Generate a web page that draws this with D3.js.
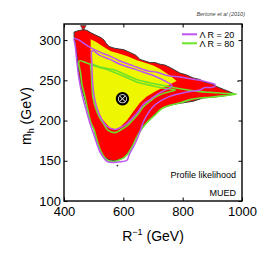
<!DOCTYPE html>
<html>
<head>
<meta charset="utf-8">
<script src="https://cdn.jsdelivr.net/npm/d3@7"></script>
<style>
  body { margin: 0; background: #fff; }
  svg { display: block; }
</style>
</head>
<body>
<script>
// profile likelihood regions, MUED (R^-1 in GeV, m_h in GeV)
var region95 = [[434,310],[451,312],[467,313],[478,312],[491,309],[508,306],[525,303],[535,300],[542,296],[552,292],
    [569,290],[585,289],[602,288],[626,284],[643,281],[656,276],[673,274],[690,272],[707,272],[724,270],[740,269],
    [757,266],[791,259],[811,257],[835,253],[858,251],[872,248],[896,246],[916,242],[936,239],[956,236],[976,233],
    [926,230],[869,228],[835,224],[801,222],[767,220],[734,216],[713,210],[690,201],[666,193],[646,180],[629,168],
    [616,160],[606,155],[589,152],[572,150],[552,151],[535,155],[524,162],[512,172],[507,180],[501,189],[490,197],
    [479,214],[467,230],[457,241],[451,255],[447,268],[444,280],[440,289],[437,298],[434,305]];

var region68 = [[490,301],[507,298],[524,294],[541,290],[558,286],[580,284],[614,280],[646,275],[681,271],[703,268],
    [724,264],[757,256],[780,249],[746,243],[712,237],[679,230],[656,222],[633,211],[612,200],[589,192],[575,189],
    [555,191],[535,199],[521,205],[508,216],[498,229],[493,245],[491,264],[490,282]];

// Lambda R = 20 contours
var lr20Outer = [[434,302],[451,300],[467,296],[488,291],[521,285],[555,280],[589,274],[633,268],[680,262],[713,260],
    [747,256],[791,254],[825,252],[858,250],[892,247],[909,245],[907,242],[895,241],[875,241],[858,238],[825,236],
    [797,234],[757,230],[724,224],[697,216],[680,207],[666,197],[656,186],[643,174],[629,164],[619,157],[613,151],
    [597,149],[569,148],[546,149],[535,153],[521,161],[511,171],[501,182],[488,196],[474,214],[461,232],[451,251],
    [444,270],[440,286],[437,295]];
var lr20Inner = [[495,287],[521,281],[555,276],[589,270],[645,263],[701,256],[746,248],[764,243],[735,237],[712,232],
    [690,226],[667,220],[650,211],[630,203],[611,196],[589,191],[572,189],[544,193],[528,201],[511,216],[501,232],
    [496,251],[494,270]];

// Lambda R = 80 contours
var lr80Outer = [[451,274],[481,271],[512,267],[569,263],[589,260],[645,251],[701,246],[757,242],[802,239],[858,236],
    [892,235],[936,234],[982,233],[943,231],[892,229],[858,228],[825,226],[791,222],[757,219],[730,215],[707,207],
    [683,199],[663,190],[646,180],[629,167],[616,159],[602,154],[585,151],[569,149],[548,150],[535,155],[525,161],
    [515,171],[508,180],[501,189],[491,197],[481,212],[471,229],[461,244],[456,259]];
var lr80Inner = [[491,270],[521,266],[555,262],[589,257],[645,248],[701,243],[740,240],[775,238],[746,235],[712,230],
    [690,224],[667,217],[650,208],[630,200],[611,193],[589,188],[572,185],[548,188],[535,195],[521,203],[508,214],
    [498,228],[494,245],[492,260]];

var bestFit = [597, 227];
var edgePoints = [[580,144],[987,249]];
var topMarker = [465, 316];

var xTicks = [400, 600, 800, 1000];
var yTicks = [100, 150, 200, 250, 300];
var legendLabels = ["\u039B R = 20", "\u039B R = 80"];
var legendColors = ["#bf55f0", "#6ee22a"];

var FONT = "'Liberation Sans', Arial, Helvetica, sans-serif";

var svg = d3.select("body").append("svg")
    .attr("width", 266)
    .attr("height", 266)
    .attr("font-family", FONT);

var plotLeft = 64, plotRight = 242, plotTop = 24, plotBottom = 201;

var x = d3.scaleLinear().domain([400, 1000]).range([plotLeft, plotRight]);
var y = d3.scaleLinear().domain([100, 320]).range([plotBottom, plotTop]);

svg.append("clipPath").attr("id", "plot-clip")
    .append("rect")
    .attr("x", plotLeft).attr("y", plotTop)
    .attr("width", plotRight - plotLeft).attr("height", plotBottom - plotTop);

var plot = svg.append("g").attr("clip-path", "url(#plot-clip)");

var area = d3.line()
    .x(function(d) { return x(d[0]); })
    .y(function(d) { return y(d[1]); })
    .curve(d3.curveLinearClosed);

var contour = d3.line()
    .x(function(d) { return x(d[0]); })
    .y(function(d) { return y(d[1]); })
    .curve(d3.curveCatmullRomClosed.alpha(0.5));

plot.append("path")
    .attr("d", area(region95))
    .attr("fill", "#ff0000")
    .attr("stroke", "#3a3a3a")
    .attr("stroke-width", 1);

plot.append("path")
    .attr("d", area(region68))
    .attr("fill", "#eef600")
    .attr("stroke", "none");

[lr80Outer, lr80Inner].forEach(function(c) {
    plot.append("path")
        .attr("d", contour(c))
        .attr("fill", "none")
        .attr("stroke", legendColors[1])
        .attr("stroke-width", 1.6);
});

[lr20Outer, lr20Inner].forEach(function(c) {
    plot.append("path")
        .attr("d", contour(c))
        .attr("fill", "none")
        .attr("stroke", legendColors[0])
        .attr("stroke-width", 1.5);
});

plot.selectAll(".edge-pt")
    .data(edgePoints)
    .enter().append("circle")
        .attr("class", "edge-pt")
        .attr("cx", function(d) { return x(d[0]); })
        .attr("cy", function(d) { return y(d[1]); })
        .attr("r", 0.9)
        .attr("fill", "#333");

plot.append("path")
    .attr("d", d3.symbol().type(d3.symbolTriangle).size(14)())
    .attr("transform", "translate(" + x(topMarker[0]) + "," + y(topMarker[1]) + ") rotate(180)")
    .attr("fill", "#e01010")
    .attr("stroke", "#333")
    .attr("stroke-width", 0.6);

// best fit point
var bf = plot.append("g")
    .attr("transform", "translate(" + x(bestFit[0]) + "," + y(bestFit[1]) + ")");
bf.append("circle").attr("r", 5.6).attr("fill", "#fff").attr("stroke", "#000").attr("stroke-width", 2.2);
bf.append("circle").attr("r", 3.7).attr("fill", "#000");
bf.append("path")
    .attr("d", "M-3,-3L3,3M3,-3L-3,3")
    .attr("stroke", "#fff")
    .attr("stroke-width", 1);

// frame and axes (inward ticks on all sides)
function axisStyle(g) {
    g.select(".domain").remove();
    g.selectAll(".tick line").attr("stroke", "#000").attr("stroke-width", 1);
    g.selectAll(".tick text").attr("fill", "#000").attr("font-family", FONT);
}

svg.append("g")
    .attr("transform", "translate(0," + plotBottom + ")")
    .call(d3.axisBottom(x).tickValues(xTicks).tickSize(-3.5).tickPadding(6).tickFormat(d3.format("d")))
    .attr("font-size", 13)
    .call(axisStyle);

svg.append("g")
    .attr("transform", "translate(0," + plotTop + ")")
    .call(d3.axisTop(x).tickValues(xTicks).tickSize(-3.5).tickFormat(""))
    .call(axisStyle);

svg.append("g")
    .attr("transform", "translate(" + plotLeft + ",0)")
    .call(d3.axisLeft(y).tickValues(yTicks).tickSize(-3.5).tickPadding(3).tickFormat(d3.format("d")))
    .attr("font-size", 13)
    .call(axisStyle);

svg.append("g")
    .attr("transform", "translate(" + plotRight + ",0)")
    .call(d3.axisRight(y).tickValues(yTicks).tickSize(-3.5).tickFormat(""))
    .call(axisStyle);

svg.append("rect")
    .attr("x", plotLeft).attr("y", plotTop)
    .attr("width", plotRight - plotLeft).attr("height", plotBottom - plotTop)
    .attr("fill", "none")
    .attr("stroke", "#000")
    .attr("stroke-width", 1.4);

// axis titles
var xt = svg.append("text")
    .attr("x", (plotLeft + plotRight) / 2)
    .attr("y", 241)
    .attr("text-anchor", "middle")
    .attr("font-size", 14);
xt.append("tspan").text("R");
xt.append("tspan").attr("font-size", 9).attr("dy", -6).text("\u22121");
xt.append("tspan").attr("dy", 6).text(" (GeV)");

var yt = svg.append("text")
    .attr("transform", "translate(31,116) rotate(-90)")
    .attr("text-anchor", "middle")
    .attr("font-size", 14);
yt.append("tspan").text("m");
yt.append("tspan").attr("font-size", 9).attr("dy", 3).text("h");
yt.append("tspan").attr("dy", -3).text(" (GeV)");

// legend
var legend = svg.append("g");
legendLabels.forEach(function(label, i) {
    var ly = 34.3 + i * 9;
    legend.append("line")
        .attr("x1", 182).attr("x2", 197)
        .attr("y1", ly).attr("y2", ly)
        .attr("stroke", legendColors[i])
        .attr("stroke-width", 2);
    legend.append("text")
        .attr("x", 199.5)
        .attr("y", ly + 3.2)
        .attr("font-size", 9)
        .text(label);
});

svg.append("text")
    .attr("x", 236).attr("y", 178)
    .attr("text-anchor", "end")
    .attr("font-size", 9)
    .text("Profile likelihood");

svg.append("text")
    .attr("x", 236).attr("y", 196)
    .attr("text-anchor", "end")
    .attr("font-size", 9)
    .text("MUED");

svg.append("text")
    .attr("x", 245).attr("y", 16)
    .attr("text-anchor", "end")
    .attr("font-size", 5.5)
    .attr("font-style", "italic")
    .attr("fill", "#444")
    .text("Bertone et al (2010)");
</script>
</body>
</html>
